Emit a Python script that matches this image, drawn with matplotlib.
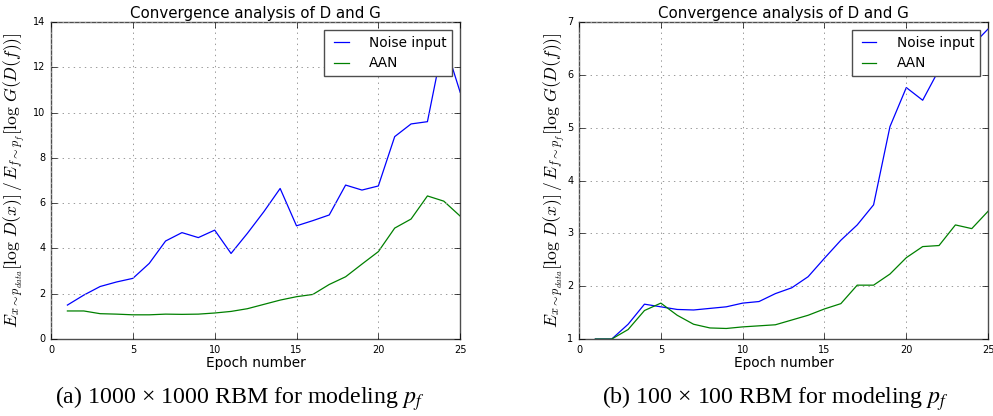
import matplotlib
matplotlib.use('Agg')
import matplotlib.pyplot as plt

# epochs
epochs = list(range(1, 26))

# (a) 1000 x 1000 RBM
noise_a = [1.50, 1.94, 2.32, 2.52, 2.68, 3.34, 4.33, 4.70, 4.48, 4.81,
           3.78, 4.67, 5.62, 6.65, 5.00, 5.23, 5.48, 6.80, 6.58, 6.76,
           8.94, 9.50, 9.60, 13.2, 10.9]
aan_a = [1.24, 1.24, 1.12, 1.10, 1.07, 1.07, 1.10, 1.09, 1.10, 1.15,
         1.22, 1.34, 1.53, 1.72, 1.87, 1.97, 2.41, 2.75, 3.31, 3.86,
         4.90, 5.30, 6.32, 6.09, 5.43]

# (b) 100 x 100 RBM
noise_b = [1.00, 1.00, 1.28, 1.66, 1.61, 1.56, 1.55, 1.58, 1.61, 1.68,
           1.71, 1.86, 1.97, 2.18, 2.53, 2.87, 3.16, 3.54, 5.02, 5.76,
           5.52, 6.10, 6.35, 6.55, 6.87]
aan_b = [1.00, 1.00, 1.18, 1.54, 1.68, 1.45, 1.28, 1.21, 1.20, 1.23,
         1.25, 1.27, 1.36, 1.45, 1.57, 1.67, 2.02, 2.02, 2.23, 2.54,
         2.75, 2.77, 3.16, 3.09, 3.42]

captions = ['(a) 1000 \u00d7 1000 RBM for modeling $p_f$',
            '(b) 100 \u00d7 100 RBM for modeling $p_f$']

plt.style.use('classic')
plt.rcParams['font.family'] = ['DejaVu Sans']
plt.rcParams['mathtext.fontset'] = 'cm'

ylab = r'$E_{x\sim p_{data}}[\log\, D(x)]\,/\,E_{f\sim p_f}[\log\, G(D(f))]$'

fig = plt.figure(figsize=(9.93, 4.16), dpi=100, facecolor='white')
ax1 = fig.add_axes([0.0514, 0.185, 0.412, 0.762])
ax2 = fig.add_axes([0.5831, 0.185, 0.412, 0.762])

panels = [(ax1, noise_a, aan_a, (0, 14), -0.059),
          (ax2, noise_b, aan_b, (1, 7), -0.029)]
for ax, noise, aan, ylim, labx in panels:
    ax.plot(epochs, noise, color='b', lw=0.9, label='Noise input')
    ax.plot(epochs, aan, color='g', lw=0.9, label='AAN')
    ax.set_xlim(0, 25)
    ax.set_ylim(*ylim)
    ax.set_xticks([0, 5, 10, 15, 20, 25])
    ax.grid(True, linestyle=':', color='0.6', linewidth=0.7)
    ax.tick_params(labelsize=7, length=4, width=0.5)
    ax.set_title('Convergence analysis of D and G', fontsize=10.8, pad=3)
    ax.set_xlabel('Epoch number', fontsize=9.8, labelpad=1)
    ax.set_ylabel(ylab, fontsize=12.7)
    ax.yaxis.set_label_coords(labx, 0.5)
    for sp in ax.spines.values():
        sp.set_color('0.3')
    ax.legend(loc='upper right', fontsize=9.8, fancybox=False,
              handlelength=1.7, handletextpad=1.2, borderaxespad=0.6,
              numpoints=2, edgecolor='0.3')

for cx, cap in zip([0.2417, 0.7805], captions):
    fig.text(cx, 0.043, cap, ha='center', va='center',
             family='Liberation Serif', fontsize=17.2, math_fontfamily='stix')

fig.savefig('out.png', dpi=100, facecolor='white')
